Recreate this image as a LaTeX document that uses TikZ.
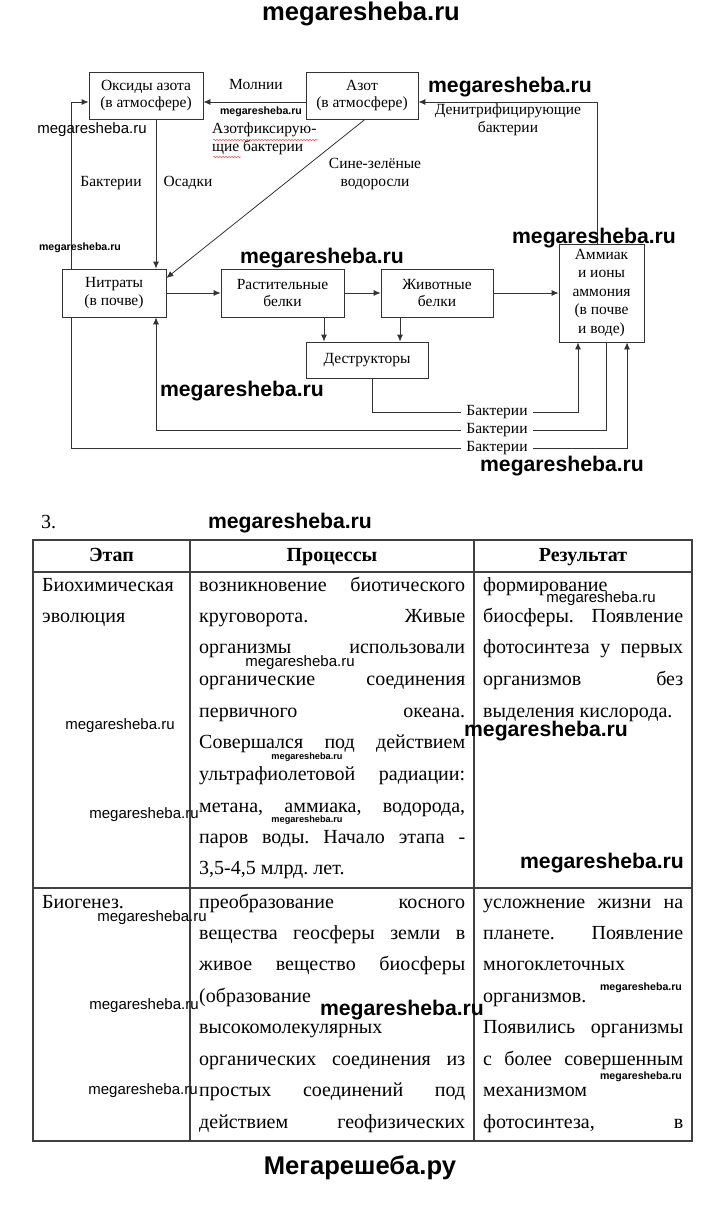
\documentclass[tikz,border=0pt]{standalone}
\usepackage{fontspec}
\setmainfont{Liberation Serif}
\newfontfamily\wmfont{Liberation Sans}
\usetikzlibrary{arrows.meta,backgrounds,decorations.pathmorphing}
\newcommand\TL[4]{\node[tline] (#1) at (#2,#3) {#4};}
\newcommand\TJ[5]{\node[tline] (#1) at (#2,#3) {\makebox[#4][s]{#5}};}
\frenchspacing
\begin{document}
\begin{tikzpicture}[x=1pt,y=-1pt,
  box/.style={draw=black!80, line width=0.8pt, fill=white, rectangle, inner sep=0pt, align=center, font=\fontsize{15.5}{17.5}\selectfont},
  lbl/.style={align=center, inner sep=1pt, font=\fontsize{15.5}{17.5}\selectfont},
  arr/.style={draw=black!80, line width=0.8pt, -{Latex[length=7pt,width=6pt]}},
  arrb/.style={draw=black!80, line width=0.8pt, {Latex[length=7pt,width=6pt]}-{Latex[length=7pt,width=6pt]}},
  wavy/.style={draw=red!70, line width=0.5pt, decorate, decoration={snake, segment length=3pt, amplitude=0.7pt}},
  wmhead/.style={inner sep=0pt, font=\wmfont\bfseries\fontsize{25.6}{28}\selectfont},
  wmbig/.style={inner sep=0pt, font=\wmfont\bfseries\fontsize{21.2}{24}\selectfont},
  wmsmall/.style={inner sep=0pt, font=\wmfont\bfseries\fontsize{10.6}{12}\selectfont},
  wmtiny/.style={inner sep=0pt, font=\wmfont\bfseries\fontsize{9.2}{11}\selectfont},
  wmreg/.style={inner sep=0pt, font=\wmfont\fontsize{15}{17}\selectfont},
  tline/.style={anchor=west, inner sep=0pt, font=\fontsize{20}{24}\selectfont, text height=14pt, text depth=4pt},
  thead/.style={inner sep=0pt, font=\bfseries\fontsize{20}{24}\selectfont, text height=14pt, text depth=4pt},
  tbl/.style={draw=black!75, line width=1.1pt}
]
\useasboundingbox (0,0) rectangle (720,1206);

% ---------- diagram boxes ----------
\node[box, minimum width=114pt, minimum height=47pt] (ox) at (146,95.5) {Оксиды азота\\(в атмосфере)};
\node[box, minimum width=112pt, minimum height=47pt] (az) at (362,95.5) {Азот\\(в атмосфере)};
\node[box, minimum width=104pt, minimum height=48pt] (ni) at (114,293) {Нитраты\\(в почве)};
\node[box, minimum width=123pt, minimum height=48pt] (ra) at (282.5,293) {Растительные\\белки};
\node[box, minimum width=112pt, minimum height=48pt] (zh) at (437,293) {Животные\\белки};
\node[box, minimum width=85pt, minimum height=98pt, font=\fontsize{15.5}{18.5}\selectfont] (am) at (601.5,293) {Аммиак\\и ионы\\аммония\\(в почве\\и воде)};
\node[box, minimum width=122pt, minimum height=36pt] (de) at (367,360) {Деструкторы};

\coordinate (c1) at (578,412);
\coordinate (c2) at (156,430);
\coordinate (c3) at (71,448);

% ---------- connectors ----------
\begin{scope}[on background layer]
\draw[arr] (az.west |- 0,102) -- (ox.east |- 0,102);
\draw[arr] (am.north -| 597,0) |- (az.east |- 0,102);
\draw[arr] (az.south -| 365,0) -- (ni.east |- 0,278);
\draw[arr] (ox.south -| 156,0) -- (ni.north -| 156,0);
\draw[arrb] (ox.west |- 0,102) -| (c3) -| (am.south -| 627,0);
\draw[arr] (ni.east) -- (ra.west);
\draw[arr] (ra.east) -- (zh.west);
\draw[arr] (zh.east) -- (am.west |- zh.east);
\draw[arr] (ra.south -| 324,0) -- (de.north -| 324,0);
\draw[arr] (zh.south -| 400,0) -- (de.north -| 400,0);
\draw[arr] (de.south -| 372,0) |- (c1) -- (am.south -| 578,0);
\draw[arr] (am.south -| 606,0) |- (c2) -- (ni.south -| 156,0);
\end{scope}

% ---------- connector labels ----------
\node[lbl] (molnii) at (256,85) {Молнии};
\node[lbl, anchor=west, align=left] (azfix) at (211,139) {Азотфиксирую-\\щие бактерии};
\draw[wavy] (213,140) -- (318,140);
\draw[wavy] (213,157) -- (241,157);
\node[lbl] (sine) at (375,174) {Сине-зелёные\\водоросли};
\node[lbl] (denit) at (508,120) {Денитрифицирующие\\бактерии};
\node[lbl] (bakl) at (111,183) {Бактерии};
\node[lbl] (osad) at (188,183) {Осадки};
\node[lbl, fill=white, inner xsep=5pt] (bk1) at (497,412) {Бактерии};
\node[lbl, fill=white, inner xsep=5pt] (bk2) at (497,430) {Бактерии};
\node[lbl, fill=white, inner xsep=5pt] (bk3) at (497,448) {Бактерии};

% ---------- table ----------
\node[anchor=west, inner sep=0pt, font=\fontsize{20}{24}\selectfont] (num) at (41,522) {3.};
\draw[tbl] (33,540) rectangle (692,1141);
\draw[tbl] (33,572) -- (692,572);
\draw[tbl] (33,888) -- (692,888);
\draw[tbl] (190,540) -- (190,1141);
\draw[tbl] (474,540) -- (474,1141);
\node[thead] (h1) at (111.5,556) {Этап};
\node[thead] (h2) at (332,556) {Процессы};
\node[thead] (h3) at (583,556) {Результат};

\TL{a1}{42}{586}{Биохимическая}
\TL{a2}{42}{617}{эволюция}
\TJ{b1}{199}{586}{266pt}{возникновение биотического}
\TJ{b2}{199}{617}{266pt}{круговорота. Живые}
\TJ{b3}{199}{648}{266pt}{организмы использовали}
\TJ{b4}{199}{680}{266pt}{органические соединения}
\TJ{b5}{199}{712}{266pt}{первичного океана.}
\TJ{b6}{199}{743}{266pt}{Совершался под действием}
\TJ{b7}{199}{775}{266pt}{ультрафиолетовой радиации:}
\TJ{b8}{199}{807}{266pt}{метана, аммиака, водорода,}
\TJ{b9}{199}{838}{266pt}{паров воды. Начало этапа -}
\TL{b10}{199}{869}{3,5-4,5 млрд. лет.}
\TL{c1t}{483}{586}{формирование}
\TJ{c2t}{483}{617}{200pt}{биосферы. Появление}
\TJ{c3t}{483}{648}{200pt}{фотосинтеза у первых}
\TJ{c4t}{483}{680}{200pt}{организмов без}
\TL{c5t}{483}{712}{выделения кислорода.}

\TL{d1}{42}{903}{Биогенез.}
\TJ{e1}{199}{903}{266pt}{преобразование косного}
\TJ{e2}{199}{934}{266pt}{вещества геосферы земли в}
\TJ{e3}{199}{965}{266pt}{живое вещество биосферы}
\TL{e4}{199}{997}{(образование}
\TL{e5}{199}{1028}{высокомолекулярных}
\TJ{e6}{199}{1060}{266pt}{органических соединения из}
\TJ{e7}{199}{1091}{266pt}{простых соединений под}
\TJ{e8}{199}{1123}{266pt}{действием геофизических}
\TJ{f1}{483}{903}{200pt}{усложнение жизни на}
\TJ{f2}{483}{934}{200pt}{планете. Появление}
\TL{f3}{483}{965}{многоклеточных}
\TL{f4}{483}{997}{организмов.}
\TJ{f5}{483}{1028}{200pt}{Появились организмы}
\TJ{f6}{483}{1060}{200pt}{с более совершенным}
\TL{f7}{483}{1091}{механизмом}
\TJ{f8}{483}{1123}{200pt}{фотосинтеза, в}

% ---------- watermarks ----------
\node[wmhead] (head) at (361,14) {megaresheba.ru};
\node[wmbig] (w1) at (510,87) {megaresheba.ru};
\node[wmsmall] (w2) at (261,112) {megaresheba.ru};
\node[wmreg] (w3) at (92,130) {megaresheba.ru};
\node[wmsmall] (w4) at (80,248) {megaresheba.ru};
\node[wmbig] (w5) at (322,258) {megaresheba.ru};
\node[wmbig] (w6) at (594,238) {megaresheba.ru};
\node[wmbig] (w7) at (242,391) {megaresheba.ru};
\node[wmbig] (w8) at (562,466) {megaresheba.ru};
\node[wmbig] (w9) at (290,523) {megaresheba.ru};
\node[wmreg] (w10) at (300,663) {megaresheba.ru};
\node[wmreg] (w11) at (601,599) {megaresheba.ru};
\node[wmreg] (w12) at (120,726) {megaresheba.ru};
\node[wmtiny] (w13) at (307,757) {megaresheba.ru};
\node[wmbig] (w14) at (546,731) {megaresheba.ru};
\node[wmreg] (w15) at (144,815) {megaresheba.ru};
\node[wmtiny] (w16) at (307,820) {megaresheba.ru};
\node[wmbig] (w17) at (602,863) {megaresheba.ru};
\node[wmreg] (w18) at (152,918) {megaresheba.ru};
\node[wmreg] (w19) at (144,1006) {megaresheba.ru};
\node[wmbig] (w20) at (402,1010) {megaresheba.ru};
\node[wmsmall] (w21) at (641,988) {megaresheba.ru};
\node[wmsmall] (w22) at (641,1077) {megaresheba.ru};
\node[wmreg] (w23) at (143,1091) {megaresheba.ru};
\node[wmhead] (foot) at (360,1168) {Мегарешеба.ру};
\end{tikzpicture}
\end{document}
